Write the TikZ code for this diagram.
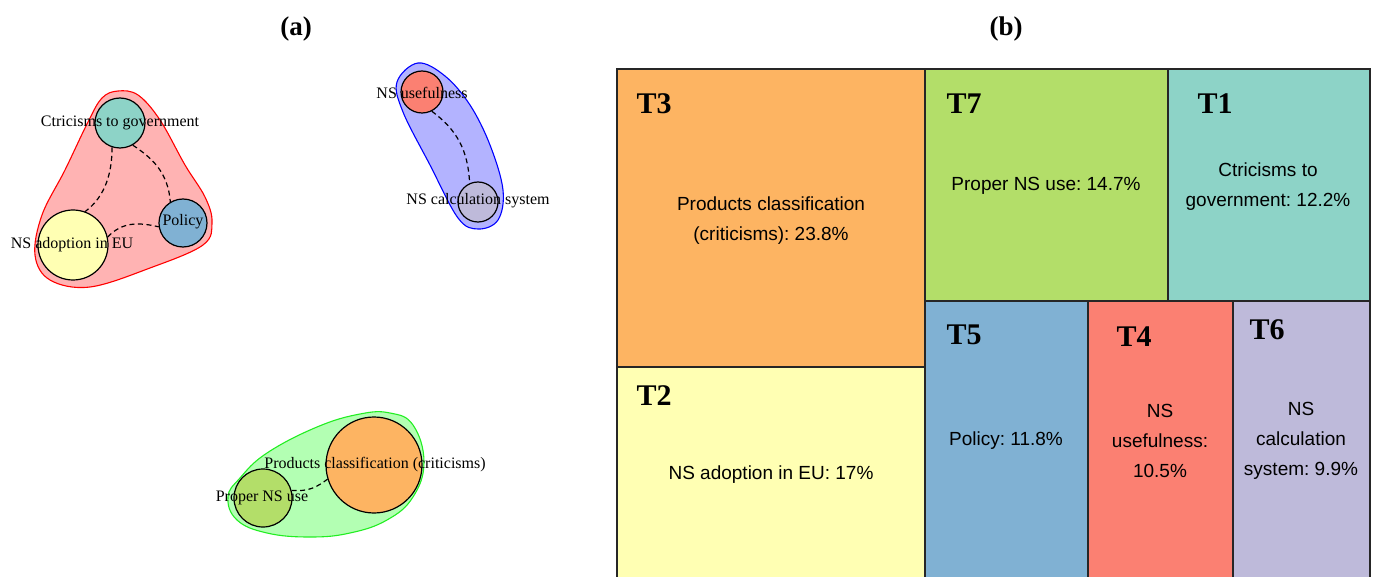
\documentclass[tikz,border=0pt]{standalone}
\usepackage{fontspec}
\setmainfont{Liberation Serif}
\newfontfamily\arialfont{Liberation Sans}
\frenchspacing
\begin{document}
\begin{tikzpicture}[x=1pt,y=-1pt,
  cell/.style={draw=black!85, line width=1.6pt},
  tlabel/.style={anchor=west, font=\fontsize{30}{32}\selectfont\bfseries},
  ttext/.style={align=center, font=\arialfont\fontsize{19}{30}\selectfont},
  vert/.style={circle, draw=black, line width=1.2pt, inner sep=0pt},
  vlabel/.style={font=\fontsize{16}{18}\selectfont, inner sep=0pt},
  link/.style={dashed, line width=1.2pt, dash pattern=on 5pt off 3.5pt},
  panel/.style={font=\fontsize{27}{30}\selectfont\bfseries}]
\definecolor{cT1}{HTML}{8DD3C7}
\definecolor{cT2}{HTML}{FFFFB3}
\definecolor{cT3}{HTML}{FDB462}
\definecolor{cT4}{HTML}{FB8072}
\definecolor{cT5}{HTML}{80B1D3}
\definecolor{cT6}{HTML}{BEBADA}
\definecolor{cT7}{HTML}{B3DE69}
\definecolor{hullred}{HTML}{FFB3B3}
\definecolor{hullblue}{HTML}{B3B3FF}
\definecolor{hullgreen}{HTML}{B3FFB3}
\definecolor{edgegreen}{HTML}{22EE22}
\useasboundingbox (0,0) rectangle (1373,577);

% panel titles
\node[panel] (ta) at (296,29) {(a)};
\node[panel] (tb) at (1006,29) {(b)};

% ---------- (a) topic network ----------
% group hulls
\draw[red, fill=hullred, line width=1.1pt] plot[smooth cycle, tension=0.6] coordinates {
  (118,91) (138,95) (160,120) (185,165) (205,197) (212,222) (203,245)
  (150,268) (90,287) (50,280) (35,255) (42,215) (65,170) (88,122) (102,98)};
\draw[blue, fill=hullblue, line width=1.1pt] plot[smooth cycle, tension=0.6] coordinates {
  (418,63) (445,76) (470,105) (490,145) (503,190) (498,220) (478,229)
  (458,218) (430,165) (403,112) (397,82)};
\draw[edgegreen, fill=hullgreen, line width=1.1pt] plot[smooth cycle, tension=0.7] coordinates {
  (228,497) (240,478) (267,453) (317,427) (360,414) (390,413)
  (413,425) (424,462) (413,497) (387,520) (350,533) (310,537)
  (267,533) (237,520)};

% topics
\node[vert, fill=cT1, minimum size=50pt] (ctr) at (120,123) {};
\node[vert, fill=cT5, minimum size=48pt] (pol) at (183,223) {};
\node[vert, fill=cT2, minimum size=70pt] (ado) at (73,245) {};
\node[vert, fill=cT4, minimum size=42pt] (use) at (422,92) {};
\node[vert, fill=cT6, minimum size=40pt] (calc) at (478,202) {};
\node[vert, fill=cT7, minimum size=58pt] (prp) at (263,498) {};
\node[vert, fill=cT3, minimum size=96pt] (prd) at (374,465) {};

% links
\draw[link] (ctr.-108) .. controls (112,172) and (106,196) .. (ado.70);
\draw[link] (ctr.-60) .. controls (152,158) and (168,172) .. (pol.121);
\draw[link] (ado.13) .. controls (122,222) and (138,222) .. (pol.189);
\draw[link] (use.-63) .. controls (457,130) and (468,150) .. (calc.114);
\draw[link] (prp.15) .. controls (310,492) and (318,486) .. (prd.197);

% topic names
\node[vlabel] (lctr) at (120,123) {Ctricisms to government};
\node[vlabel] (lpol) at (183,222) {Policy};
\node[vlabel] (lado) at (72,245) {NS adoption in EU};
\node[vlabel] (luse) at (422,93) {NS usefulness};
\node[vlabel] (lcalc) at (478,201) {NS calculation system};
\node[vlabel] (lprd) at (375,465) {Products classification (criticisms)};
\node[vlabel] (lprp) at (262,498) {Proper NS use};

% ---------- (b) treemap ----------
\path[cell, fill=cT3] (617,69) rectangle (925,367);
\path[cell, fill=cT2] (617,367) rectangle (925,579);
\path[cell, fill=cT7] (925,69) rectangle (1168,301);
\path[cell, fill=cT1] (1168,69) rectangle (1370,301);
\path[cell, fill=cT5] (925,301) rectangle (1088,579);
\path[cell, fill=cT4] (1088,301) rectangle (1233,579);
\path[cell, fill=cT6] (1233,301) rectangle (1370,579);

\node[tlabel] (k3) at (633,104) {T3};
\node[tlabel] (k7) at (943,104) {T7};
\node[tlabel] (k1) at (1194,104) {T1};
\node[tlabel] (k2) at (633,396) {T2};
\node[tlabel] (k5) at (943,335) {T5};
\node[tlabel] (k4) at (1113,337) {T4};
\node[tlabel] (k6) at (1246,330) {T6};

\node[ttext] (d3) at (771,221) {Products classification\\(criticisms): 23.8\%};
\node[ttext] (d7) at (1046,186) {Proper NS use: 14.7\%};
\node[ttext] (d1) at (1268,187) {Ctricisms to\\government: 12.2\%};
\node[ttext] (d2) at (771,475) {NS adoption in EU: 17\%};
\node[ttext] (d5) at (1006,441) {Policy: 11.8\%};
\node[ttext] (d4) at (1160,441) {NS\\usefulness:\\10.5\%};
\node[ttext] (d6) at (1301,441) {NS\\calculation\\system: 9.9\%};
\end{tikzpicture}
\end{document}
